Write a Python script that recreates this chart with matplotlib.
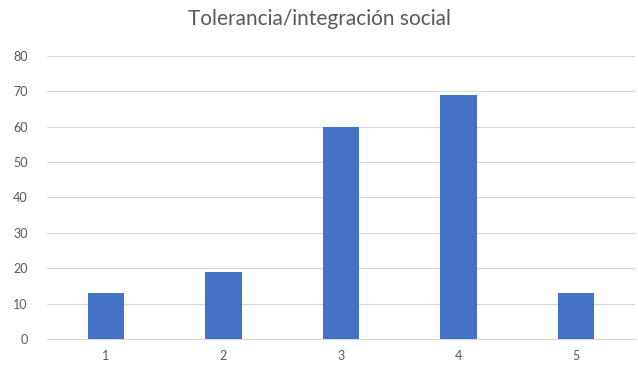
import matplotlib.pyplot as plt

categories = ['1', '2', '3', '4', '5']
values = [13, 19, 60, 69, 13]
yticks = [0, 10, 20, 30, 40, 50, 60, 70, 80]

plt.rcParams['font.family'] = ['Lato', 'DejaVu Sans']

fig = plt.figure(figsize=(6.38, 3.65), dpi=100)
ax = fig.add_axes([0.0737, 0.0712, 0.9213, 0.7758])

x = range(len(categories))
ax.bar(x, values, width=0.31, color='#4472C4', zorder=3)

ax.set_xlim(-0.5, len(categories) - 0.5)
ax.set_ylim(0, 80)
ax.set_yticks(yticks)
ax.set_xticks(list(x))
ax.set_xticklabels(categories)
ax.grid(axis='y', color='#D9D9D9', linewidth=0.8, zorder=0)
for s in ['top', 'right', 'left']:
    ax.spines[s].set_visible(False)
ax.spines['bottom'].set_color('#D9D9D9')
ax.tick_params(length=0, labelsize=9, colors='#595959', pad=8)
ax.tick_params(axis='y', pad=14)

fig.text(0.5, 0.948, 'Tolerancia/integración social', ha='center', va='center',
         fontsize=15, color='#595959')

fig.savefig('out.png', dpi=100)
